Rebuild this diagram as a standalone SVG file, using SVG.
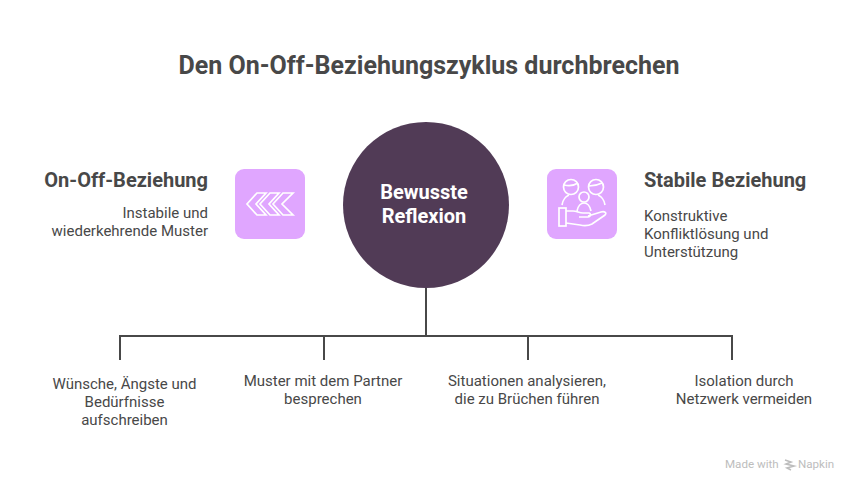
<svg xmlns="http://www.w3.org/2000/svg" width="858" height="492" viewBox="0 0 858 492">
<style>
text{font-family:Roboto,"Liberation Sans",sans-serif;fill:#484848}
.t{font-size:15px}
.h{font-size:20px;font-weight:700}
.m{text-anchor:middle}
.e{text-anchor:end}
.tile{fill:#e0a6ff}
.ic{fill:none;stroke:#fff;stroke-width:1.7;stroke-linejoin:miter}
.c{fill:none;stroke:#484848;stroke-width:2}
.w{font-size:20px;font-weight:700;fill:#fff}
.b{font-size:11.6px;fill:#bdbdbd}
</style>
<rect width="858" height="492" fill="#fff"/>
<text class="m" x="429" y="74" style="font-size:25px;font-weight:700">Den On-Off-Beziehungszyklus durchbrechen</text>
<g id="connectors">
<path class="c" d="M426 288V335M120 360V336H732V360M324 336V360M528 336V360"/>
</g>
<g id="center">
<circle cx="426" cy="205" r="83" fill="#513b56"/>
<text class="m w" x="424" y="199">Bewusste</text>
<text class="m w" x="424" y="223">Reflexion</text>
</g>
<g id="left">
<text class="h e" x="208" y="187">On-Off-Beziehung</text>
<text class="t e" x="208" y="218">Instabile und</text>
<text class="t e" x="208" y="236">wiederkehrende Muster</text>
<rect class="tile" x="235" y="169" width="70" height="70" rx="9"/>
<path class="ic" d="M257 193H266L256 204L266 215H257L247 204ZM270 193H279L269 204L279 215H270L260 204ZM283 193H293L282 204L293 215H283L273 204Z"/>
</g>
<g id="right">
<rect class="tile" x="547" y="169" width="70" height="70" rx="9"/>
<g class="ic">
<circle cx="571" cy="187" r="7.500"/>
<circle cx="596" cy="187" r="7.500"/>
<circle cx="584" cy="197" r="5"/>
<path d="M562 205C563 199 565 197 569 195M605 205C604 199 602 197 598 195M577 211C578 206 581 203 584 203C587 203 590 206 591 211M564 185C569 186 575 185 578 183M589 186C594 186 600 184 602 183"/>
<rect x="559" y="208" width="7" height="18"/>
<path d="M566 211H573C577 211 579 213 583 213H589C591 213 591 217 588 217H579M588 216L601 212C605 211 607 213 605 215L592 224C588 226 584 226 580 225L566 223"/>
</g>
<text class="h" x="644" y="187">Stabile Beziehung</text>
<text class="t" x="644" y="221">Konstruktive</text>
<text class="t" x="644" y="239">Konfliktlösung und</text>
<text class="t" x="644" y="257">Unterstützung</text>
</g>
<g id="item1">
<text class="t m" x="124.500" y="389">Wünsche, Ängste und</text>
<text class="t m" x="124.500" y="407">Bedürfnisse</text>
<text class="t m" x="124.500" y="425">aufschreiben</text>
</g>
<g id="item2">
<text class="t m" x="323" y="386">Muster mit dem Partner</text>
<text class="t m" x="323" y="404">besprechen</text>
</g>
<g id="item3">
<text class="t m" x="527" y="386">Situationen analysieren,</text>
<text class="t m" x="527" y="404">die zu Brüchen führen</text>
</g>
<g id="item4">
<text class="t m" x="744" y="386">Isolation durch</text>
<text class="t m" x="744" y="404">Netzwerk vermeiden</text>
</g>
<g id="brand">
<text class="b" x="725" y="468">Made with</text>
<path d="M785 460L791 462L786 464L794 466L787 468L791 470" stroke="#bdbdbd" stroke-width="1.6" fill="none"/>
<text class="b" x="798" y="468">Napkin</text>
</g>
</svg>
